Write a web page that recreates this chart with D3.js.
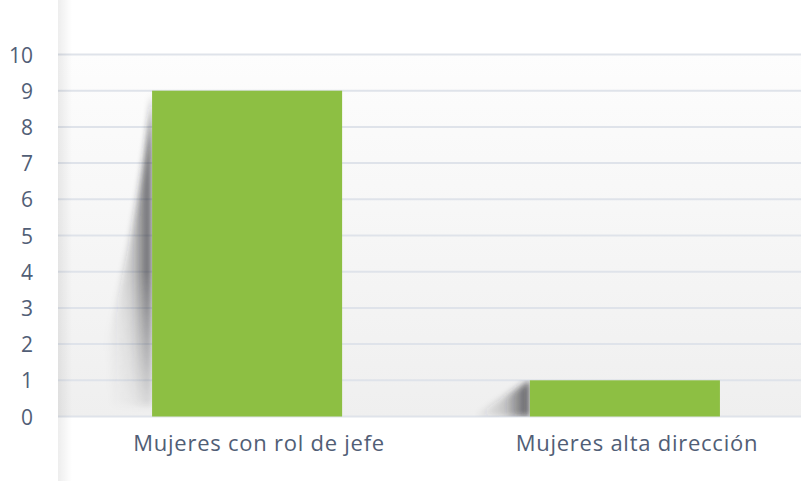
<!DOCTYPE html>
<html lang="es">
<head>
<meta charset="UTF-8">
<title>Mujeres en roles de liderazgo</title>
<script src="https://d3js.org/d3.v7.min.js"></script>
<style>
    body { margin: 0; background: #fff; }
    .tick text { font-family: "Open Sans", Lato, sans-serif; fill: #515e76; }
</style>
</head>
<body>
<div id="chart"></div>
<script>
    // chart data
    const categories = ["Mujeres con rol de jefe", "Mujeres alta dirección"];
    const values = [9, 1];
    const yTicks = [0, 1, 2, 3, 4, 5, 6, 7, 8, 9, 10];

    const width = 801, height = 481;
    const margin = { top: 54.5, right: 0, bottom: 64.5, left: 58 };
    const innerW = width - margin.left - margin.right;
    const innerH = height - margin.top - margin.bottom;

    const svg = d3.select("#chart").append("svg")
        .attr("width", width)
        .attr("height", height);

    const defs = svg.append("defs");

    // plot background, light at the top and greyer at the bottom
    const bg = defs.append("linearGradient").attr("id", "bgGrad")
        .attr("x1", 0).attr("y1", 0).attr("x2", 0).attr("y2", 1);
    bg.append("stop").attr("offset", "0%").attr("stop-color", "#fdfdfd");
    bg.append("stop").attr("offset", "100%").attr("stop-color", "#efefef");

    // left edge shadow
    const edge = defs.append("linearGradient").attr("id", "edgeGrad");
    edge.append("stop").attr("offset", "0%").attr("stop-color", "#000").attr("stop-opacity", 0.07);
    edge.append("stop").attr("offset", "100%").attr("stop-color", "#000").attr("stop-opacity", 0);

    // bar shadow: dark next to the bar, fading out to the left
    const sh = defs.append("linearGradient").attr("id", "barShadow")
        .attr("x1", 1).attr("y1", 0).attr("x2", 0).attr("y2", 0);
    sh.append("stop").attr("offset", "0%").attr("stop-color", "#2a2a2e").attr("stop-opacity", 0.75);
    sh.append("stop").attr("offset", "45%").attr("stop-color", "#2a2a2e").attr("stop-opacity", 0.2);
    sh.append("stop").attr("offset", "100%").attr("stop-color", "#2a2a2e").attr("stop-opacity", 0);

    const fade = defs.append("linearGradient").attr("id", "fadeDown")
        .attr("x1", 0).attr("y1", 0).attr("x2", 0).attr("y2", 1);
    fade.append("stop").attr("offset", "0%").attr("stop-color", "#fff").attr("stop-opacity", 1);
    fade.append("stop").attr("offset", "55%").attr("stop-color", "#fff").attr("stop-opacity", 1);
    fade.append("stop").attr("offset", "100%").attr("stop-color", "#fff").attr("stop-opacity", 0.1);

    defs.append("filter").attr("id", "blur").attr("x", "-50%").attr("width", "200%")
        .append("feGaussianBlur").attr("stdDeviation", 3);

    const g = svg.append("g").attr("transform", `translate(${margin.left},${margin.top})`);

    const x = d3.scaleBand().domain(categories).range([0, 756]).paddingInner(0.497).paddingOuter(0.249);
    const y = d3.scaleLinear().domain([0, 10]).range([innerH, 0]);

    g.append("rect")
        .attr("x", 0).attr("y", 0)
        .attr("width", innerW).attr("height", innerH)
        .attr("fill", "url(#bgGrad)");

    svg.append("rect")
        .attr("x", margin.left).attr("y", 0)
        .attr("width", 14).attr("height", height)
        .attr("fill", "url(#edgeGrad)");

    // grid lines
    g.append("g")
        .selectAll("line")
        .data(yTicks)
        .join("line")
        .attr("x1", 0).attr("x2", innerW)
        .attr("y1", d => y(d)).attr("y2", d => y(d))
        .attr("stroke", "#dfe3ea")
        .attr("stroke-width", 2);

    // shadows behind the bars
    g.append("g")
        .selectAll("g")
        .data(values)
        .join("g")
        .each(function (d, i) {
            const x0 = x(categories[i]);
            const top = y(d);
            const h = innerH - top;
            const spread = Math.max(45, h * 0.14);
            const mid = top + h * 0.78;
            const m = defs.append("mask").attr("id", "m" + i).attr("maskUnits", "userSpaceOnUse");
            m.append("rect").attr("x", x0 - spread - 10).attr("y", top).attr("width", spread + 10).attr("height", h)
                .attr("fill", h > 80 ? "url(#fadeDown)" : "#fff");
            d3.select(this).append("path")
                .attr("d", h > 80
                    ? `M${x0},${top + 4} Q${x0 - 8},${top + h * 0.3} ${x0 - spread},${mid} L${x0 - spread * 0.9},${innerH - 10} L${x0},${innerH - 10} Z`
                    : `M${x0},${top} L${x0 - spread * 1.25},${innerH} L${x0},${innerH} Z`)
                .attr("fill", "url(#barShadow)")
                .attr("filter", "url(#blur)")
                .attr("mask", `url(#m${i})`);
        });

    g.append("g")
        .selectAll("rect")
        .data(values)
        .join("rect")
        .attr("x", (d, i) => x(categories[i]))
        .attr("y", d => y(d))
        .attr("width", x.bandwidth())
        .attr("height", d => innerH - y(d))
        .attr("fill", "#8dbf43");

    // axes
    const yAxis = g.append("g")
        .attr("transform", "translate(-25,0)")
        .call(d3.axisLeft(y).tickValues(yTicks).tickSize(0).tickPadding(0));
    yAxis.select(".domain").remove();
    yAxis.selectAll("text").attr("font-size", 21).attr("dy", "0.36em");

    const xAxis = g.append("g")
        .attr("transform", `translate(0,${innerH})`)
        .call(d3.axisBottom(x).tickSize(0).tickPadding(19));
    xAxis.select(".domain").remove();
    xAxis.selectAll("text").attr("font-size", 22).attr("letter-spacing", 0.75).attr("dx", 12);
</script>
</body>
</html>
